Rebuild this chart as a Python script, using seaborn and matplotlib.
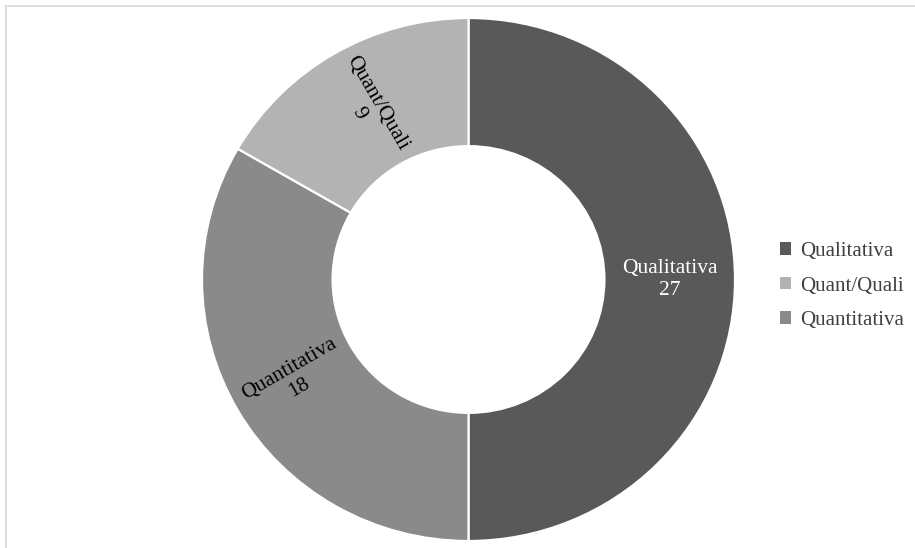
import numpy as np
import matplotlib
matplotlib.use('Agg')
import matplotlib.pyplot as plt
import matplotlib.patches as mpatches
from matplotlib.lines import Line2D
import seaborn as sns

sns.set_theme(style='white')
plt.rcParams['font.family'] = ['Liberation Serif', 'DejaVu Serif']

# data (legend order)
categories = ['Qualitativa', 'Quant/Quali', 'Quantitativa']
counts = [27, 9, 18]
colors = ['#595959', '#b3b3b3', '#8a8a8a']
label_colors = ['white', 'black', 'black']
# clockwise drawing order, starting at 12 o'clock
pie_order = [0, 2, 1]

W, H = 915, 548
fig = plt.figure(figsize=(W / 100, H / 100), dpi=100)

# donut area in pixels (slightly wider than tall, as in the reference)
cx, cy, rx, ry = 468.5, 279.5, 266.5, 261.5
ax = fig.add_axes([(cx - rx) / W, (H - cy - ry) / H, 2 * rx / W, 2 * ry / H])

vals = [counts[i] for i in pie_order]
cols = [colors[i] for i in pie_order]
wedges, _ = ax.pie(vals, colors=cols, startangle=90, counterclock=False, radius=1.0,
                   wedgeprops=dict(width=0.49, edgecolor='white', linewidth=1.6))
ax.set_aspect('auto')
ax.set_xlim(-1, 1)
ax.set_ylim(-1, 1)
ax.axis('off')

r_lab = 0.755
for w, i in zip(wedges, pie_order):
    mid = (w.theta1 + w.theta2) / 2.0
    rad = np.deg2rad(mid)
    rot = mid % 180
    if rot > 90:
        rot -= 180
    ax.text(r_lab * np.cos(rad), r_lab * np.sin(rad), f'{categories[i]}\n{counts[i]}',
            ha='center', va='center', rotation=rot, rotation_mode='anchor',
            fontsize=15.5, color=label_colors[i], linespacing=1.15)

handles = [mpatches.Patch(facecolor=c, edgecolor='none', label=l) for c, l in zip(colors, categories)]
fig.legend(handles=handles, loc='center left', bbox_to_anchor=(761 / W, 1 - 286 / H),
           frameon=False, fontsize=15, handlelength=0.55, handleheight=0.55,
           handletextpad=0.45, labelspacing=0.75, labelcolor='#404040')

# light frame (top and left edges visible in the reference)
fig.add_artist(Line2D([5 / W, 1], [1 - 6 / H, 1 - 6 / H], color='#d9d9d9', lw=1.2))
fig.add_artist(Line2D([5.5 / W, 5.5 / W], [0, 1 - 6 / H], color='#d9d9d9', lw=1.2))

fig.savefig('out.png', dpi=100)
